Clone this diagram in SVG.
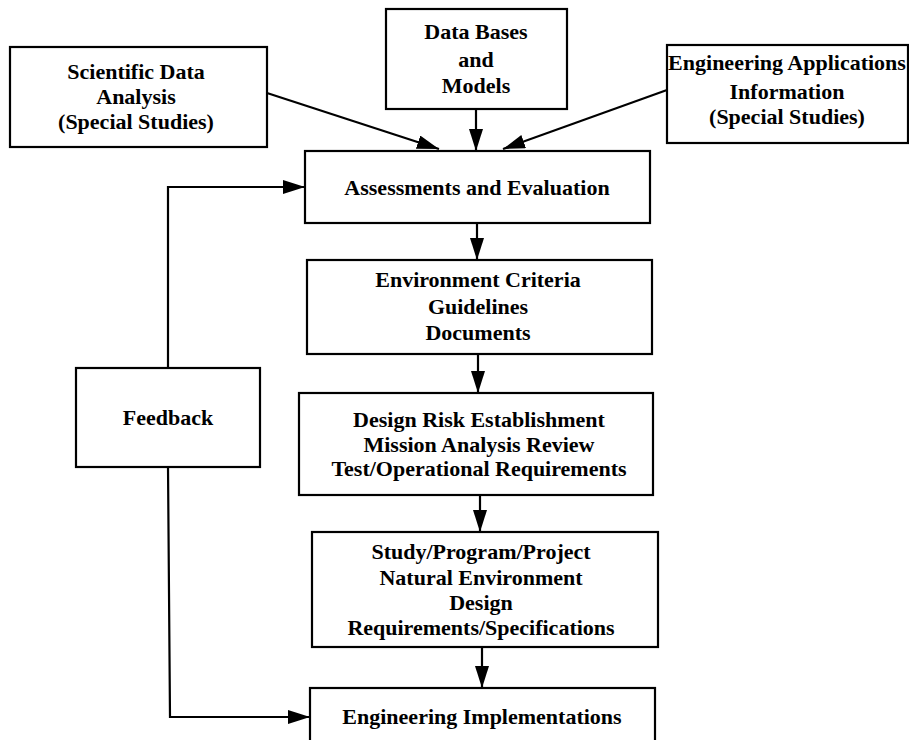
<svg xmlns="http://www.w3.org/2000/svg" width="909" height="740" viewBox="0 0 909 740">
<style>
.box{fill:#fff;stroke:#000;stroke-width:2.2}
.t{font-family:"Liberation Serif","Times New Roman",serif;font-weight:bold;font-size:22px;fill:#000;text-anchor:middle}
.c{fill:none;stroke:#000;stroke-width:2.2}
</style>
<defs>
<marker id="ah" markerUnits="userSpaceOnUse" markerWidth="24" markerHeight="16" refX="22" refY="7" orient="auto">
<path d="M0,0 L22,7 L0,14 z" fill="#000"/>
</marker>
</defs>
<rect width="909" height="740" fill="#fff"/>
<g id="connectors">
<line class="c" x1="267" y1="93" x2="439" y2="149" marker-end="url(#ah)"/>
<line class="c" x1="476" y1="109" x2="476" y2="151" marker-end="url(#ah)"/>
<line class="c" x1="667" y1="90" x2="503" y2="149" marker-end="url(#ah)"/>
<polyline class="c" points="168,368 168,187 305,187" marker-end="url(#ah)"/>
<polyline class="c" points="168,467 170,717 310,717" marker-end="url(#ah)"/>
<line class="c" x1="477" y1="223" x2="477" y2="260" marker-end="url(#ah)"/>
<line class="c" x1="478" y1="354" x2="478" y2="393" marker-end="url(#ah)"/>
<line class="c" x1="480" y1="495" x2="480" y2="532" marker-end="url(#ah)"/>
<line class="c" x1="482" y1="647" x2="482" y2="688" marker-end="url(#ah)"/>
</g>
<g id="scientific">
<rect class="box" x="10" y="47" width="257" height="100"/>
<text class="t" x="136" y="79">Scientific Data</text>
<text class="t" x="136" y="104">Analysis</text>
<text class="t" x="136" y="129">(Special Studies)</text>
</g>
<g id="databases">
<rect class="box" x="386" y="9" width="181" height="100"/>
<text class="t" x="476" y="39">Data Bases</text>
<text class="t" x="476" y="67">and</text>
<text class="t" x="476" y="93">Models</text>
</g>
<g id="engapps">
<rect class="box" x="667" y="45" width="241" height="98"/>
<text class="t" x="787" y="70">Engineering Applications</text>
<text class="t" x="787" y="99">Information</text>
<text class="t" x="787" y="124">(Special Studies)</text>
</g>
<g id="assessments">
<rect class="box" x="305" y="151" width="345" height="72"/>
<text class="t" x="477" y="195">Assessments and Evaluation</text>
</g>
<g id="feedback">
<rect class="box" x="76" y="368" width="184" height="99"/>
<text class="t" x="168" y="425">Feedback</text>
</g>
<g id="environment">
<rect class="box" x="307" y="260" width="345" height="94"/>
<text class="t" x="478" y="287">Environment Criteria</text>
<text class="t" x="478" y="314">Guidelines</text>
<text class="t" x="478" y="340">Documents</text>
</g>
<g id="designrisk">
<rect class="box" x="299" y="393" width="354" height="102"/>
<text class="t" x="479" y="427">Design Risk Establishment</text>
<text class="t" x="479" y="452">Mission Analysis Review</text>
<text class="t" x="479" y="476">Test/Operational Requirements</text>
</g>
<g id="study">
<rect class="box" x="312" y="532" width="346" height="115"/>
<text class="t" x="481" y="559">Study/Program/Project</text>
<text class="t" x="481" y="585">Natural Environment</text>
<text class="t" x="481" y="610">Design</text>
<text class="t" x="481" y="635">Requirements/Specifications</text>
</g>
<g id="engimpl">
<rect class="box" x="310" y="688" width="345" height="60"/>
<text class="t" x="482" y="724">Engineering Implementations</text>
</g>
</svg>
